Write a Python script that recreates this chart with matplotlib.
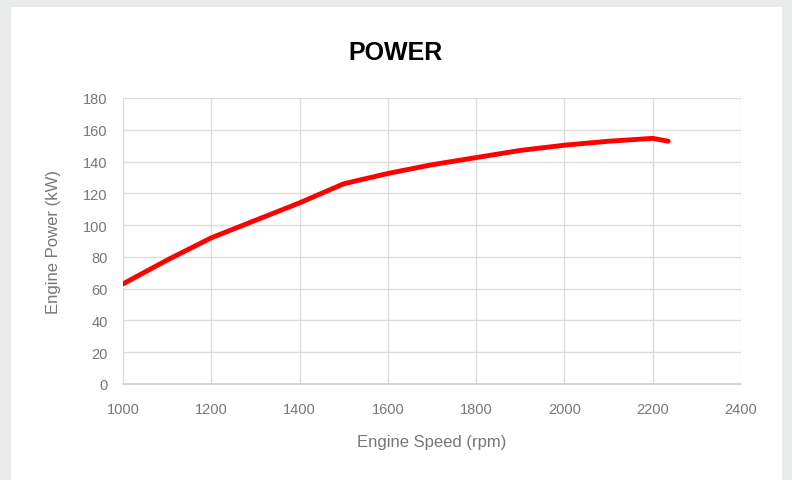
import matplotlib
matplotlib.use("Agg")
import matplotlib.pyplot as plt
from matplotlib.patches import Rectangle

rpm = [1000, 1100, 1200, 1250, 1300, 1400, 1500, 1600, 1700, 1800, 1900, 2000, 2100, 2200, 2235]
power = [63, 78, 92, 97.5, 103, 114, 126, 132.5, 138, 142.5, 147, 150.3, 152.8, 154.6, 152.8]
x_ticks = [1000, 1200, 1400, 1600, 1800, 2000, 2200, 2400]
y_ticks = [0, 20, 40, 60, 80, 100, 120, 140, 160, 180]

fig = plt.figure(figsize=(7.92, 4.81), dpi=100)
fig.patch.set_facecolor("#e9eaea")
card = Rectangle((11/792, 0), (782-11)/792, 1 - 8/481, transform=fig.transFigure,
                 facecolor="white", edgecolor="none", zorder=-10)
fig.patches.append(card)

ax = fig.add_axes([123/792, 1 - 385/481, (741-123)/792, (385-99)/481])
ax.set_zorder(5)
ax.set_facecolor("white")
ax.plot(rpm, power, color="#ff0000", lw=3.5, solid_capstyle="round", solid_joinstyle="round", zorder=3)

ax.set_xlim(1000, 2400)
ax.set_ylim(0, 180)
ax.set_xticks(x_ticks)
ax.set_yticks(y_ticks)
ax.grid(True, color="#dcdcdc", lw=1.0)
ax.set_axisbelow(True)
for s in ["top", "right", "left"]:
    ax.spines[s].set_visible(False)
ax.spines["bottom"].set_color("#cfcfcf")
ax.spines["bottom"].set_linewidth(1.2)
ax.tick_params(length=0, labelcolor="#777777", labelsize=10.5)
ax.tick_params(axis="x", pad=13)
ax.tick_params(axis="y", pad=11)

fam = ["Liberation Sans", "DejaVu Sans"]
for lab in ax.get_xticklabels() + ax.get_yticklabels():
    lab.set_family(fam)

ax.set_xlabel("Engine Speed (rpm)", color="#777777", fontsize=12, family=fam, labelpad=13)
ax.set_ylabel("Engine Power (kW)", color="#777777", fontsize=12, family=fam, labelpad=16)
fig.text(396/792, 1 - 53/481, "POWER", ha="center", va="center", fontsize=18,
         family=fam, color="black", weight="bold", zorder=10)

fig.savefig("out.png", dpi=100, facecolor=fig.get_facecolor())
